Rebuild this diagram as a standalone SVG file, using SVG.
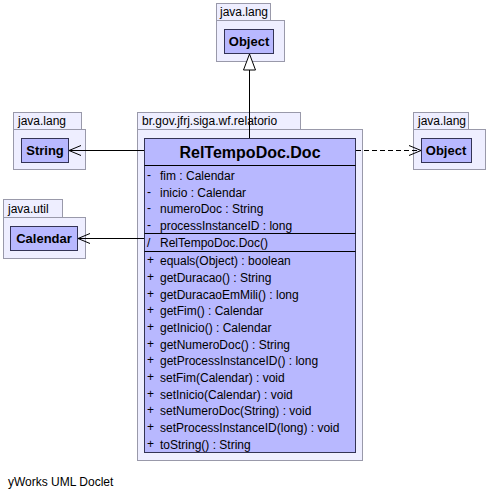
<svg xmlns="http://www.w3.org/2000/svg" width="488" height="498" viewBox="0 0 488 498">
<defs>
<style>
.pkg{fill:#eeeeff;stroke:#9999aa;stroke-width:1}
.cls{fill:#b8b8ff;stroke:#333355;stroke-width:1}
.sep{stroke:#000;stroke-width:1}
.t{font-family:"Liberation Sans",Arial,sans-serif;font-size:12px;fill:#000}
.b{font-family:"Liberation Sans",Arial,sans-serif;font-size:13px;font-weight:bold;fill:#000}
.n{font-family:"Liberation Sans",Arial,sans-serif;font-size:16px;font-weight:bold;fill:#000}
.edge{stroke:#000;stroke-width:1;fill:none}
</style>
<marker id="open" markerWidth="14" markerHeight="12" refX="13" refY="6" orient="auto" markerUnits="userSpaceOnUse">
<path d="M1,1 L13,6 L1,11" fill="none" stroke="#000" stroke-width="1"/>
</marker>
<marker id="tri" markerWidth="18" markerHeight="14" refX="17" refY="7" orient="auto" markerUnits="userSpaceOnUse">
<path d="M1,1 L17,7 L1,13 Z" fill="#fff" stroke="#000" stroke-width="1"/>
</marker>
</defs>
<rect width="488" height="498" fill="#fff"/>

<g id="pkg-object-top">
<rect class="pkg" x="216.5" y="3.5" width="54" height="17"/>
<rect class="pkg" x="216.5" y="20.5" width="68" height="41"/>
<text class="t" x="220" y="16">java.lang</text>
<g id="Object-top">
<rect class="cls" x="224.5" y="29.5" width="49" height="24"/>
<text class="b" x="249" y="46" text-anchor="middle">Object</text>
</g>
</g>

<g id="pkg-string">
<rect class="pkg" x="13.5" y="112.5" width="68" height="17"/>
<rect class="pkg" x="13.5" y="129.5" width="72" height="40"/>
<text class="t" x="18" y="125">java.lang</text>
<g id="String">
<rect class="cls" x="21.5" y="138.5" width="47" height="24"/>
<text class="b" x="45" y="155" text-anchor="middle">String</text>
</g>
</g>

<g id="pkg-calendar">
<rect class="pkg" x="3.5" y="199.5" width="59" height="18"/>
<rect class="pkg" x="3.5" y="217.5" width="82" height="41"/>
<text class="t" x="8" y="213">java.util</text>
<g id="Calendar">
<rect class="cls" x="10.5" y="226.5" width="67" height="24"/>
<text class="b" x="44" y="243" text-anchor="middle">Calendar</text>
</g>
</g>

<g id="pkg-object-right">
<rect class="pkg" x="413.5" y="112.5" width="55" height="17"/>
<rect class="pkg" x="413.5" y="129.5" width="72" height="40"/>
<text class="t" x="418" y="125">java.lang</text>
<g id="Object-right">
<rect class="cls" x="421.5" y="138.5" width="50" height="24"/>
<text class="b" x="446" y="155" text-anchor="middle">Object</text>
</g>
</g>

<g id="pkg-relatorio">
<rect class="pkg" x="137.5" y="112.5" width="163" height="17"/>
<rect class="pkg" x="137.5" y="129.5" width="225" height="331"/>
<text class="t" x="142" y="125">br.gov.jfrj.siga.wf.relatorio</text>
</g>

<g id="RelTempoDoc.Doc">
<rect class="cls" x="144.5" y="138.5" width="211" height="314"/>
<text class="n" x="250" y="158" text-anchor="middle">RelTempoDoc.Doc</text>
<line class="sep" x1="144.5" y1="165.5" x2="355.5" y2="165.5"/>
<line class="sep" x1="144.5" y1="233.5" x2="355.5" y2="233.5"/>
<line class="sep" x1="144.5" y1="251.5" x2="355.5" y2="251.5"/>
<g class="t">
<text x="147" y="179">-</text><text x="160" y="180">fim : Calendar</text>
<text x="147" y="196">-</text><text x="160" y="197">inicio : Calendar</text>
<text x="147" y="212">-</text><text x="160" y="213">numeroDoc : String</text>
<text x="147" y="229">-</text><text x="160" y="230">processInstanceID : long</text>
<text x="147" y="247">/</text><text x="160" y="247">RelTempoDoc.Doc()</text>
<text x="147" y="264">+</text><text x="160" y="265">equals(Object) : boolean</text>
<text x="147" y="281">+</text><text x="160" y="282">getDuracao() : String</text>
<text x="147" y="298">+</text><text x="160" y="299">getDuracaoEmMili() : long</text>
<text x="147" y="314">+</text><text x="160" y="315">getFim() : Calendar</text>
<text x="147" y="331">+</text><text x="160" y="332">getInicio() : Calendar</text>
<text x="147" y="348">+</text><text x="160" y="349">getNumeroDoc() : String</text>
<text x="147" y="364">+</text><text x="160" y="365">getProcessInstanceID() : long</text>
<text x="147" y="381">+</text><text x="160" y="382">setFim(Calendar) : void</text>
<text x="147" y="398">+</text><text x="160" y="399">setInicio(Calendar) : void</text>
<text x="147" y="414">+</text><text x="160" y="415">setNumeroDoc(String) : void</text>
<text x="147" y="431">+</text><text x="160" y="432">setProcessInstanceID(long) : void</text>
<text x="147" y="448">+</text><text x="160" y="449">toString() : String</text>
</g>
</g>

<g id="connectors">
<line class="edge" x1="249.5" y1="138" x2="249.5" y2="54" marker-end="url(#tri)"/>
<line class="edge" x1="144" y1="150.5" x2="69" y2="150.5" marker-end="url(#open)"/>
<line class="edge" x1="144" y1="238.5" x2="78" y2="238.5" marker-end="url(#open)"/>
<line class="edge" x1="356" y1="150.5" x2="421" y2="150.5" stroke-dasharray="5,3" marker-end="url(#open)"/>
</g>

<text class="t" x="8" y="486">yWorks UML Doclet</text>
</svg>
